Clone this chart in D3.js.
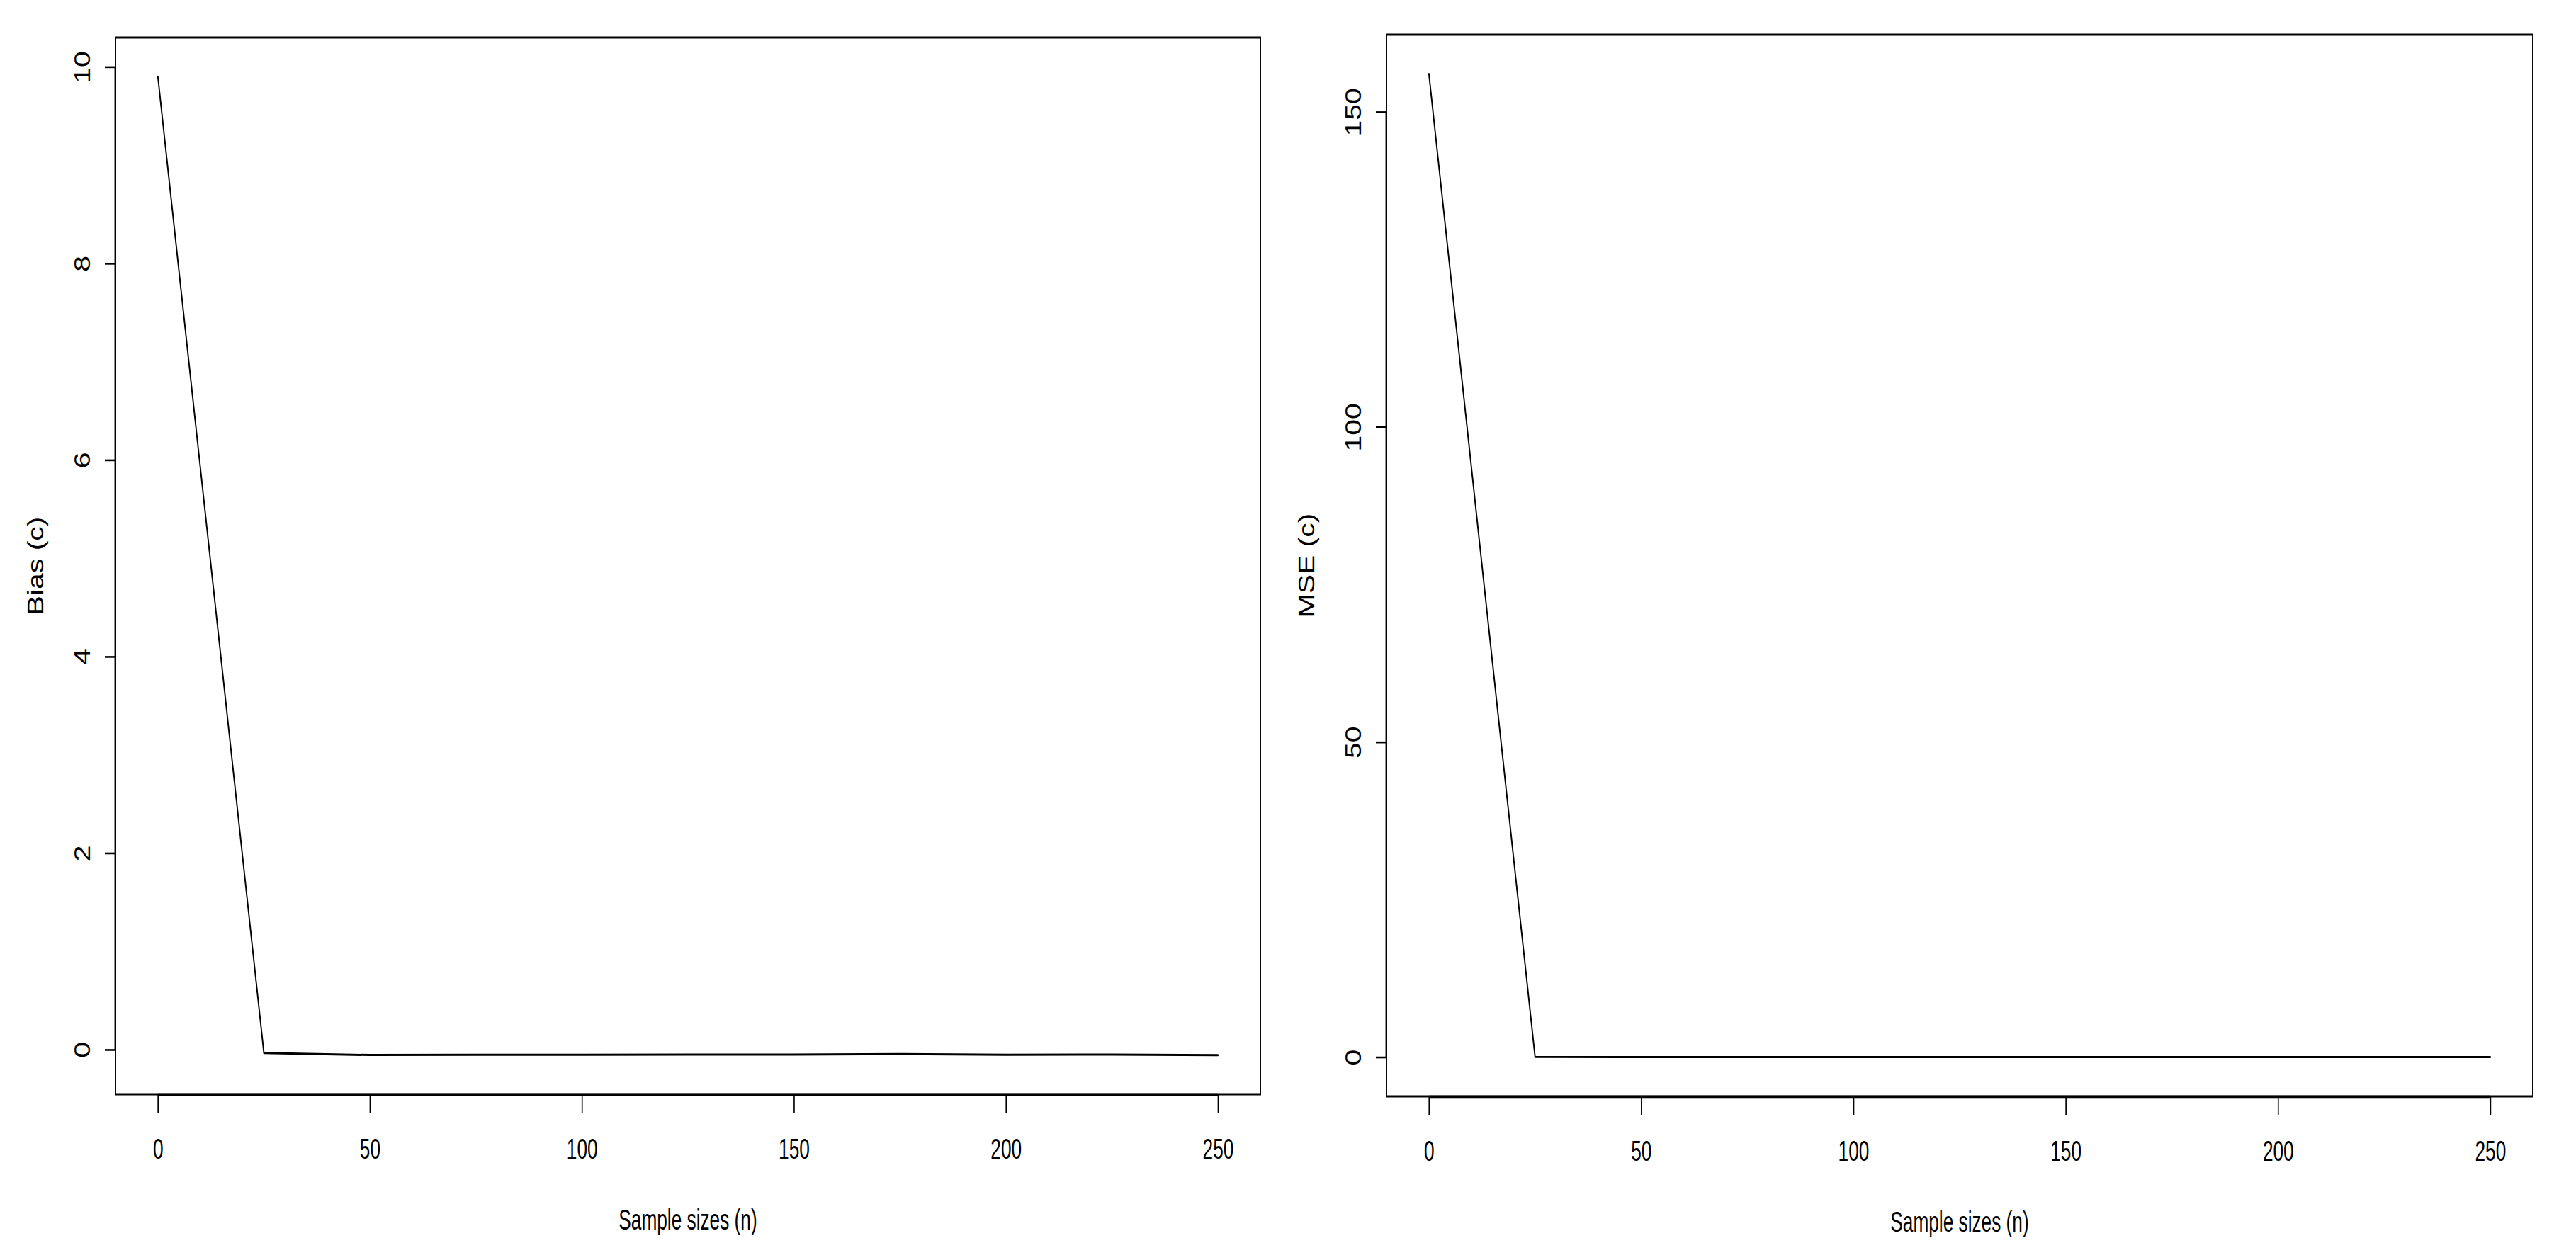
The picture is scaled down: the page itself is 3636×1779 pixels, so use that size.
<!DOCTYPE html>
<html>
<head>
<meta charset="utf-8">
<script src="https://cdn.jsdelivr.net/npm/d3@7"></script>
<style>
  html, body { margin: 0; padding: 0; background: #fff; }
  svg { display: block; }
  text { font-family: "Liberation Sans", Arial, Helvetica, sans-serif; fill: #000; }
</style>
</head>
<body>
<svg id="chart" width="3636" height="1779"></svg>
<script>
// ---- data ----
const sampleSizes = [0, 25, 50, 75, 100, 125, 150, 175, 200, 225, 250];
const biasValues  = [9.90, -0.035, -0.055, -0.053, -0.052, -0.051, -0.050, -0.045, -0.052, -0.050, -0.056];
const mseValues   = [156.0, 0.020, 0.012, 0.010, 0.009, 0.008, 0.008, 0.007, 0.007, 0.006, 0.006];
const xTickValues    = [0, 50, 100, 150, 200, 250];
const biasTickValues = [0, 2, 4, 6, 8, 10];
const mseTickValues  = [0, 50, 100, 150];
const xTitle = "Sample sizes (n)";
const biasTitle = "Bias (c)";
const mseTitle = "MSE (c)";

// ---- layout ----
const sx = 0.64;          // horizontal compression of the original image
const rotStretch = 1.16;  // glyph height compensation for rotated labels
const fontSize = 41;

const panels = [
  { box: { x0: 163, x1: 1779, y0: 53, y1: 1545 }, ys: biasValues, yTicks: biasTickValues, yTitle: biasTitle },
  { box: { x0: 1957, x1: 3575, y0: 49, y1: 1548 }, ys: mseValues, yTicks: mseTickValues, yTitle: mseTitle }
];

const svg = d3.select("#chart");
svg.append("rect").attr("width", 3636).attr("height", 1779).attr("fill", "#fff");

// R-style axis range: data range extended by 4% each side
function rRange(vals) {
  const [lo, hi] = d3.extent(vals);
  const r = hi - lo;
  return [lo - 0.04 * r, hi + 0.04 * r];
}

panels.forEach(p => {
  const b = p.box;
  const g = svg.append("g").attr("transform", `scale(${sx},1)`);
  const X0 = b.x0 / sx, X1 = b.x1 / sx;

  const x = d3.scaleLinear().domain(rRange(sampleSizes)).range([X0, X1]);
  const y = d3.scaleLinear().domain(rRange(p.ys)).range([b.y1, b.y0]);

  // box
  g.append("rect")
    .attr("x", X0).attr("y", b.y0)
    .attr("width", X1 - X0).attr("height", b.y1 - b.y0)
    .attr("fill", "none").attr("stroke", "#000").attr("stroke-width", 3);

  // bottom axis
  const xa = g.append("g").attr("transform", `translate(0,${b.y1})`)
    .call(d3.axisBottom(x).tickValues(xTickValues).tickSize(26).tickSizeOuter(0).tickFormat(d3.format("d")));
  xa.select(".domain").remove();
  xa.selectAll(".tick line").attr("stroke", "#000").attr("stroke-width", 2.6);
  xa.selectAll(".tick text").attr("y", 91).attr("dy", null)
    .attr("font-size", fontSize).attr("font-family", "Liberation Sans, Arial, sans-serif");
  g.append("line")
    .attr("x1", x(xTickValues[0])).attr("x2", x(xTickValues[xTickValues.length - 1]))
    .attr("y1", b.y1 + 0.5).attr("y2", b.y1 + 0.5)
    .attr("stroke", "#000").attr("stroke-width", 3.5);

  // left axis
  const ya = g.append("g").attr("transform", `translate(${X0},0)`)
    .call(d3.axisLeft(y).tickValues(p.yTicks).tickSize(15 / sx).tickSizeOuter(0).tickFormat(d3.format("d")));
  ya.select(".domain").remove();
  ya.selectAll(".tick line").attr("stroke", "#000").attr("stroke-width", 2.6);
  ya.selectAll(".tick text")
    .attr("x", null).attr("dy", null)
    .attr("text-anchor", "middle")
    .attr("font-size", fontSize).attr("font-family", "Liberation Sans, Arial, sans-serif")
    .attr("transform", `translate(${-36 / sx},0) rotate(-90) scale(1,${rotStretch})`);
  g.append("line")
    .attr("x1", X0 - 0.5).attr("x2", X0 - 0.5)
    .attr("y1", y(p.yTicks[0])).attr("y2", y(p.yTicks[p.yTicks.length - 1]))
    .attr("stroke", "#000").attr("stroke-width", 3.5);

  // data line
  const line = d3.line().x((d, i) => x(sampleSizes[i])).y(d => y(d));
  g.append("path")
    .datum(p.ys)
    .attr("d", line)
    .attr("fill", "none").attr("stroke", "#000")
    .attr("stroke-width", 3).attr("stroke-linejoin", "round").attr("stroke-linecap", "round");

  // titles
  g.append("text")
    .attr("x", (X0 + X1) / 2).attr("y", b.y1 + 191)
    .attr("text-anchor", "middle").attr("font-size", fontSize)
    .text(xTitle);
  g.append("text")
    .attr("text-anchor", "middle").attr("font-size", fontSize)
    .attr("transform", `translate(${(b.x0 - 102) / sx},${(b.y0 + b.y1) / 2}) rotate(-90) scale(1,${rotStretch})`)
    .text(p.yTitle);
});
</script>
</body>
</html>
